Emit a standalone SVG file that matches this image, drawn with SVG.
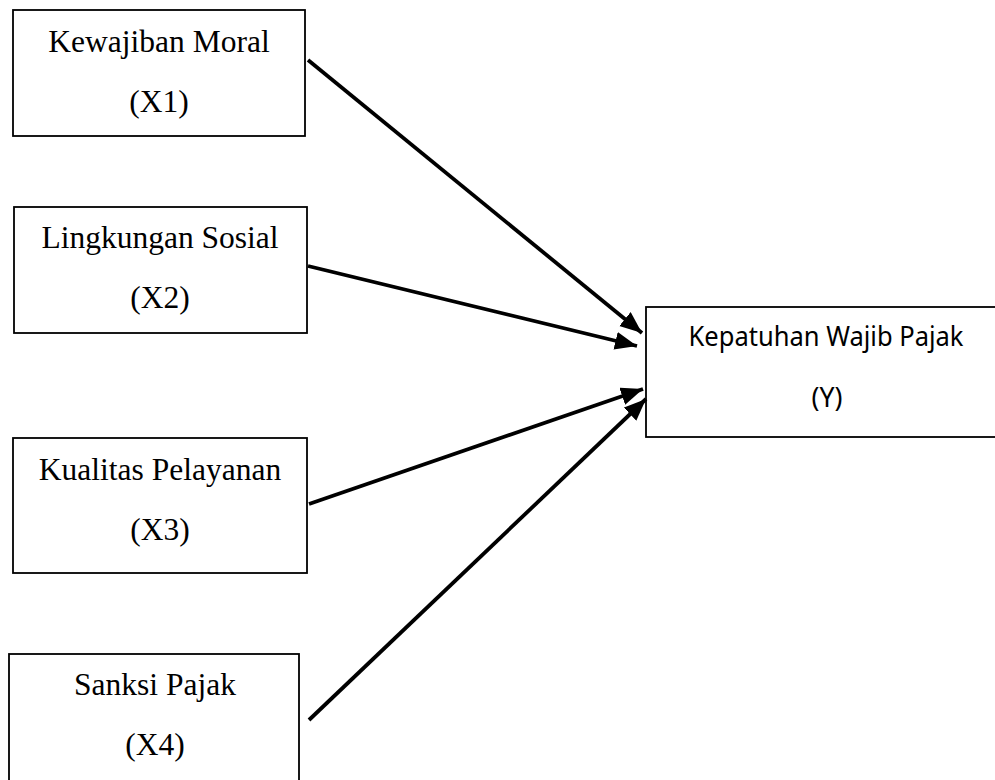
<svg xmlns="http://www.w3.org/2000/svg" width="995" height="780" viewBox="0 0 995 780">
<style>
.box{fill:#fff;stroke:#000;stroke-width:1.8}
.t{font-family:"Liberation Serif","Times New Roman",serif;font-size:31.5px;fill:#000;text-anchor:middle}
.ty{font-family:"Noto Sans","Open Sans",sans-serif;font-size:26.5px;fill:#000;text-anchor:middle}
.c{stroke:#000;stroke-width:3.8;fill:none;marker-end:url(#ah)}
</style>
<defs>
<marker id="ah" markerUnits="userSpaceOnUse" markerWidth="24" markerHeight="20" refX="22" refY="9" orient="auto">
<path d="M0,0 L22,9 L0,18 Z" fill="#000"/>
</marker>
</defs>
<rect width="995" height="780" fill="#fff"/>
<g id="x1">
<rect class="box" x="13" y="10" width="292" height="126"/>
<text class="t" x="159" y="52">Kewajiban Moral</text>
<text class="t" x="159" y="112">(X1)</text>
</g>
<g id="x2">
<rect class="box" x="14" y="207" width="293" height="126"/>
<text class="t" x="160" y="248">Lingkungan Sosial</text>
<text class="t" x="160" y="308">(X2)</text>
</g>
<g id="x3">
<rect class="box" x="13" y="438" width="294" height="135"/>
<text class="t" x="160" y="480">Kualitas Pelayanan</text>
<text class="t" x="160" y="540">(X3)</text>
</g>
<g id="x4">
<rect class="box" x="9" y="654" width="290" height="140"/>
<text class="t" x="155" y="695">Sanksi Pajak</text>
<text class="t" x="155" y="755">(X4)</text>
</g>
<g id="y">
<rect class="box" x="646" y="307" width="360" height="130"/>
<text class="ty" x="826" y="346" textLength="275" lengthAdjust="spacingAndGlyphs">Kepatuhan Wajib Pajak</text>
<text class="ty" x="827" y="407">(Y)</text>
</g>
<g id="connectors">
<line class="c" x1="308" y1="60" x2="642" y2="333"/>
<line class="c" x1="308" y1="266" x2="637" y2="346"/>
<line class="c" x1="309" y1="504" x2="643" y2="389"/>
<line class="c" x1="309" y1="720" x2="646" y2="399"/>
</g>
</svg>
